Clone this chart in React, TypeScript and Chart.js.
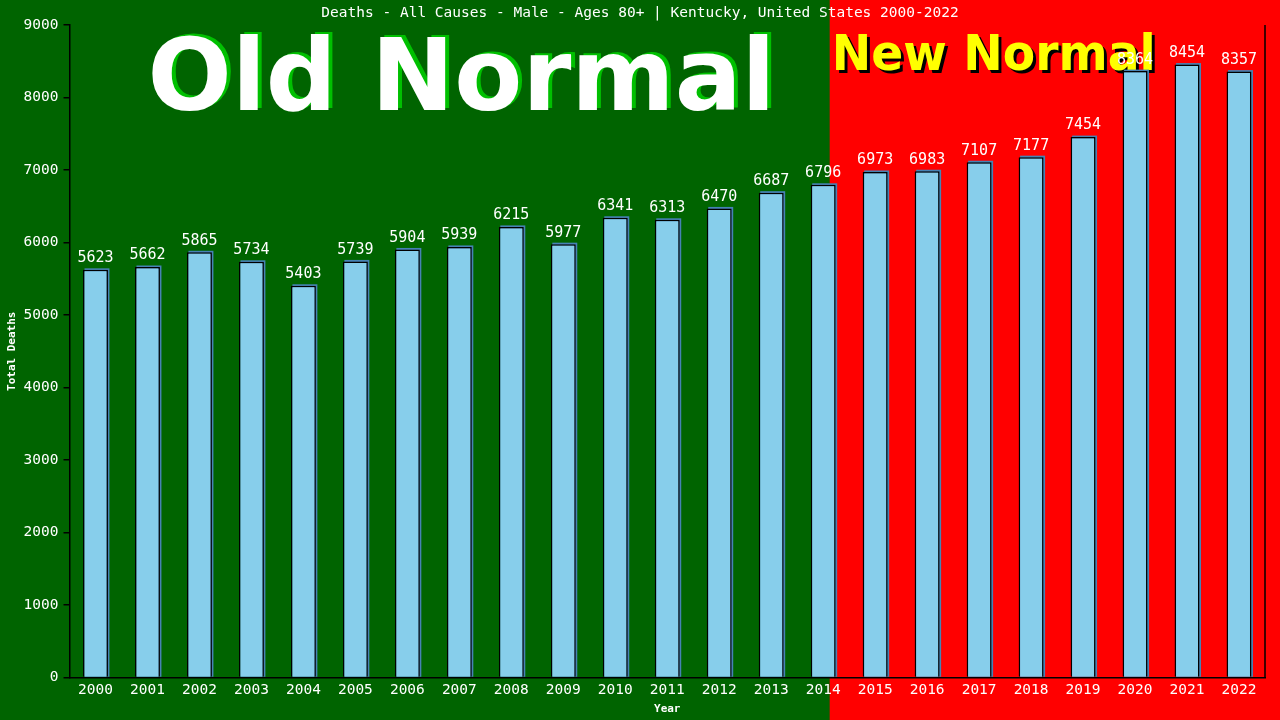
import React, { useEffect, useRef } from 'react';
import { Chart, registerables } from 'chart.js';

Chart.register(...registerables);

const years: string[] = [
    '2000', '2001', '2002', '2003', '2004', '2005', '2006', '2007', '2008', '2009', '2010', '2011',
    '2012', '2013', '2014', '2015', '2016', '2017', '2018', '2019', '2020', '2021', '2022'
];
const deaths: number[] = [
    5623, 5662, 5865, 5734, 5403, 5739, 5904, 5939, 6215, 5977, 6341, 6313,
    6470, 6687, 6796, 6973, 6983, 7107, 7177, 7454, 8364, 8454, 8357
];
const yTicks: number[] = [0, 1000, 2000, 3000, 4000, 5000, 6000, 7000, 8000, 9000];
const lastOldYear = '2014';

const titleText = 'Deaths - All Causes - Male - Ages 80+ | Kentucky, United States 2000-2022';
const mono = '"DejaVu Sans Mono", monospace';
const sans = '"DejaVu Sans", sans-serif';

// background split, headline texts and title
const backdrop = {
    id: 'backdrop',
    beforeDraw(chart: Chart) {
        const { ctx, width, height, chartArea } = chart;
        const x = chart.scales.x;
        const idx = years.indexOf(lastOldYear);
        const step = x.getPixelForValue(1) - x.getPixelForValue(0);
        const split = x.getPixelForValue(idx) + step * 0.125;

        ctx.save();
        ctx.fillStyle = '#006400';
        ctx.fillRect(0, 0, width, height);
        ctx.fillStyle = '#ff0000';
        ctx.fillRect(split, 0, width - split, height);

        ctx.fillStyle = '#ffffff';
        ctx.font = `14.5px ${mono}`;
        ctx.textAlign = 'center';
        ctx.textBaseline = 'middle';
        ctx.fillText(titleText, width / 2, 13);

        // Old Normal
        ctx.font = `bold 100px ${sans}`;
        ctx.textBaseline = 'alphabetic';
        ctx.textAlign = 'center';
        const oldX = (chartArea.left + split) / 2 + 12;
        ctx.fillStyle = '#00c000';
        ctx.fillText('Old Normal', oldX + 4, 108, 628);
        ctx.fillStyle = '#ffffff';
        ctx.fillText('Old Normal', oldX, 110, 628);

        // New Normal
        ctx.font = `bold 49px ${sans}`;
        ctx.textAlign = 'left';
        ctx.fillStyle = '#000000';
        ctx.fillText('New Normal', split + 5, 73, 324);
        ctx.fillStyle = '#ffff00';
        ctx.fillText('New Normal', split + 2, 70, 324);
        ctx.restore();
    },
    afterDraw(chart: Chart) {
        const { ctx, chartArea } = chart;
        ctx.save();
        ctx.strokeStyle = '#000000';
        ctx.lineWidth = 1.5;
        ctx.beginPath();
        ctx.moveTo(chartArea.right, chartArea.top);
        ctx.lineTo(chartArea.right, chartArea.bottom);
        ctx.stroke();
        ctx.restore();
    }
};

// steelblue offset behind each bar, and value labels
const barDecor = {
    id: 'barDecor',
    beforeDatasetsDraw(chart: Chart) {
        const { ctx } = chart;
        const meta = chart.getDatasetMeta(0);
        ctx.save();
        ctx.fillStyle = '#4682b4';
        meta.data.forEach((el: any) => {
            const w = el.width;
            ctx.fillRect(el.x - w / 2 + 1.5, el.y - 1.5, w, el.base - el.y + 1.5);
        });
        ctx.restore();
    },
    afterDatasetsDraw(chart: Chart) {
        const { ctx } = chart;
        const meta = chart.getDatasetMeta(0);
        ctx.save();
        ctx.fillStyle = '#ffffff';
        ctx.font = `15px ${mono}`;
        ctx.textAlign = 'center';
        ctx.textBaseline = 'bottom';
        meta.data.forEach((el: any, i: number) => {
            ctx.fillText(String(deaths[i]), el.x, el.y - 4);
        });
        ctx.restore();
    }
};

export default function App() {
    const canvasRef = useRef<HTMLCanvasElement>(null);
    const chartRef = useRef<Chart | null>(null);

    useEffect(() => {
        document.body.style.margin = '0';
        if (!canvasRef.current) return;
        if (chartRef.current) chartRef.current.destroy();

        chartRef.current = new Chart(canvasRef.current, {
            type: 'bar',
            data: {
                labels: years,
                datasets: [
                    {
                        label: 'Total Deaths',
                        data: deaths,
                        backgroundColor: '#87ceeb',
                        borderColor: '#000000',
                        borderWidth: { top: 1.5, left: 1.5, right: 1.5, bottom: 0 },
                        borderSkipped: 'bottom',
                        barPercentage: 0.48,
                        categoryPercentage: 1
                    }
                ]
            },
            options: {
                responsive: false,
                animation: false,
                layout: { padding: { top: 25, right: 15, left: 0, bottom: 0 } },
                plugins: {
                    legend: { display: false },
                    title: { display: false },
                    tooltip: { enabled: false }
                },
                scales: {
                    x: {
                        grid: { display: false, drawTicks: false },
                        border: { color: '#000000', width: 1.5 },
                        ticks: {
                            color: '#ffffff',
                            font: { family: mono, size: 14.5 },
                            padding: 4,
                            maxRotation: 0,
                            autoSkip: false
                        },
                        title: {
                            display: true,
                            text: 'Year',
                            color: '#ffffff',
                            font: { family: mono, size: 11, weight: 'bold' },
                            padding: { top: 0, bottom: 4 }
                        },
                        afterFit(scale: any) {
                            scale.height = 42.5;
                        }
                    },
                    y: {
                        min: 0,
                        max: 9000,
                        afterBuildTicks(scale: any) {
                            scale.ticks = yTicks.map(v => ({ value: v }));
                        },
                        grid: {
                            display: true,
                            drawOnChartArea: false,
                            drawTicks: true,
                            tickLength: 6,
                            color: '#000000',
                            lineWidth: 1.5
                        },
                        border: { color: '#000000', width: 1.5 },
                        ticks: {
                            color: '#ffffff',
                            font: { family: mono, size: 14.5 },
                            padding: 5,
                            callback: (v: any) => String(v)
                        },
                        title: {
                            display: true,
                            text: 'Total Deaths',
                            color: '#ffffff',
                            font: { family: mono, size: 11, weight: 'bold' },
                            padding: { top: 6, bottom: 0 }
                        },
                        afterFit(scale: any) {
                            scale.width = 69.5;
                        }
                    }
                }
            },
            plugins: [backdrop, barDecor]
        });

        return () => {
            if (chartRef.current) {
                chartRef.current.destroy();
                chartRef.current = null;
            }
        };
    }, []);

    return <canvas ref={canvasRef} width={1280} height={720} style={{ display: 'block' }} />;
}
